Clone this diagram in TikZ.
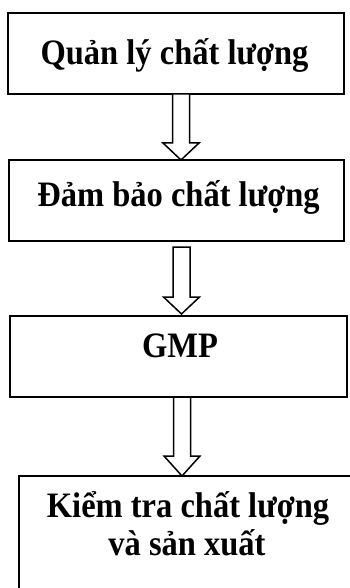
\documentclass[tikz,border=0pt]{standalone}
\usepackage{fontspec}
\setmainfont{Liberation Serif}
\newcommand\stretchtxt[1]{\scalebox{1}[1.1]{#1}}
\begin{document}
\begin{tikzpicture}[x=1pt,y=-1pt,
  box/.style={draw=black,line width=1.6pt,fill=none},
  lbl/.style={font=\bfseries\fontsize{32.5}{38}\selectfont,anchor=base,inner sep=0pt},
  arr/.style={draw=black,line width=1.5pt,line join=miter,fill=white}]
\useasboundingbox (0,0) rectangle (350,588);
\clip (0,0) rectangle (350,588);
\fill[white] (0,0) rectangle (350,588);
% boxes
\node[box,minimum width=336pt,minimum height=81pt,inner sep=0pt] (box1) at (176,53.5) {};
\node[box,minimum width=335pt,minimum height=81pt,inner sep=0pt] (box2) at (176.5,200.5) {};
\node[box,minimum width=337pt,minimum height=81pt,inner sep=0pt] (box3) at (178.5,356.5) {};
\node[box,minimum width=345pt,minimum height=130pt,inner sep=0pt] (box4) at (191.5,541) {};
% texts
\node[lbl] (t1) at (174.5,65) {\stretchtxt{Quản lý chất lượng}};
\node[lbl] (t2) at (178.5,206) {\stretchtxt{Đảm bảo chất lượng}};
\node[lbl] (t3) at (180,357) {\stretchtxt{GMP}};
\node[lbl] (t4a) at (188,517) {\stretchtxt{Kiểm tra chất lượng}};
\node[lbl] (t4b) at (187,555) {\stretchtxt{và sản xuất}};
% block arrows
\newcommand\blockarr[4]{%
  \draw[arr] (#1-8.5,#2) -- (#1-8.5,#3) -- (#1-18,#3) -- (#1,#4) -- (#1+18,#3) -- (#1+8.5,#3) -- (#1+8.5,#2) -- cycle;}
\blockarr{181}{94}{143}{160}
\blockarr{181.5}{247}{297}{314}
\blockarr{182}{397}{456}{476}
\end{tikzpicture}
\end{document}
